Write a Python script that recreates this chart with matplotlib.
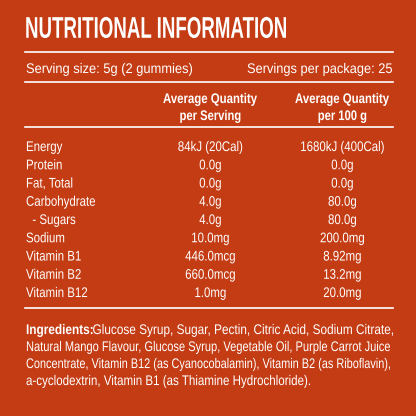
import matplotlib
matplotlib.use("Agg")
import matplotlib.pyplot as plt
from matplotlib.textpath import TextPath
from matplotlib.font_manager import FontProperties
from matplotlib.patches import PathPatch
from matplotlib.transforms import Affine2D

title = "NUTRITIONAL INFORMATION"
serving = "Serving size: 5g (2 gummies)"
per_pack = "Servings per package: 25"
headers = [["Average Quantity", "per Serving"], ["Average Quantity", "per 100 g"]]
nutrients = ["Energy", "Protein", "Fat, Total", "Carbohydrate", "  - Sugars", "Sodium",
             "Vitamin B1", "Vitamin B2", "Vitamin B12"]
per_serving = ["84kJ (20Cal)", "0.0g", "0.0g", "4.0g", "4.0g", "10.0mg", "446.0mcg", "660.0mcg", "1.0mg"]
per_100g = ["1680kJ (400Cal)", "0.0g", "0.0g", "80.0g", "80.0g", "200.0mg", "8.92mg", "13.2mg", "20.0mg"]
ingredients = [
    ("Ingredients: ", "Glucose Syrup, Sugar, Pectin, Citric Acid, Sodium Citrate,"),
    ("", "Natural Mango Flavour, Glucose Syrup, Vegetable Oil, Purple Carrot Juice"),
    ("", "Concentrate, Vitamin B12 (as Cyanocobalamin), Vitamin B2 (as Riboflavin),"),
    ("", "a-cyclodextrin, Vitamin B1 (as Thiamine Hydrochloride)."),
]

BG = "#C43C14"
W = "white"
FONT = "Liberation Sans"
fig = plt.figure(figsize=(4.16, 4.16), dpi=100, facecolor=BG)
ax = fig.add_axes([0, 0, 1, 1])
ax.set_facecolor(BG)
ax.set_xlim(0, 416); ax.set_ylim(416, 0); ax.axis("off")


def make(s, size, bold):
    fp = FontProperties(family=FONT, weight="bold" if bold else "normal")
    return TextPath((0, 0), s, size=size, prop=fp)


def width(s, size, bold):
    p = make(s.replace(" ", "\u00a0") if s.endswith(" ") else s, size, bold)
    return p.vertices[:, 0].max() if len(p.vertices) else 0


def txt(x, y, s, size=14, bold=False, ha="left", sx=0.86, fit=None):
    p = make(s, size, bold)
    w = p.get_extents().x1
    if fit is not None:
        sx = fit / w
    w *= sx
    if ha == "center":
        x -= w / 2
    elif ha == "right":
        x -= w
    tr = Affine2D().scale(sx, -1).translate(x, y + 0.36 * size)
    ax.add_patch(PathPatch(tr.transform_path(p), fc=W, ec="none"))
    return x + w


txt(25, 27, title, size=30, bold=True, fit=261)
for y in (52, 82, 127, 308):
    ax.plot([25, 393], [y, y], color=W, lw=1.2)
txt(26, 68, serving, fit=166)
txt(392, 68, per_pack, ha="right", fit=145)
for x, h in zip((210, 342), headers):
    txt(x, 98, h[0], bold=True, ha="center", fit=94)
    txt(x, 115, h[1], bold=True, ha="center", sx=0.8)
for i, (n, a, b) in enumerate(zip(nutrients, per_serving, per_100g)):
    y = 146 + i * 18.25
    txt(26, y, n, sx=0.82)
    txt(210, y, a, ha="center", sx=0.82)
    txt(342, y, b, ha="center", sx=0.82)

fits = [393 - 26, 390 - 26, 390 - 26, 310 - 26]
for i, (bold, rest) in enumerate(ingredients):
    y = 329 + i * 17
    if bold:
        wb = width(bold, 14, True)
        wr = make(rest, 14, False).get_extents().x1
        sx = fits[i] / (wb + wr)
        x = txt(26, y, bold.strip(), bold=True, sx=sx)
        x = 26 + wb * sx
        txt(x, y, rest, sx=sx)
    else:
        txt(26, y, rest, fit=fits[i])

fig.savefig("out.png", dpi=100, facecolor=BG)
